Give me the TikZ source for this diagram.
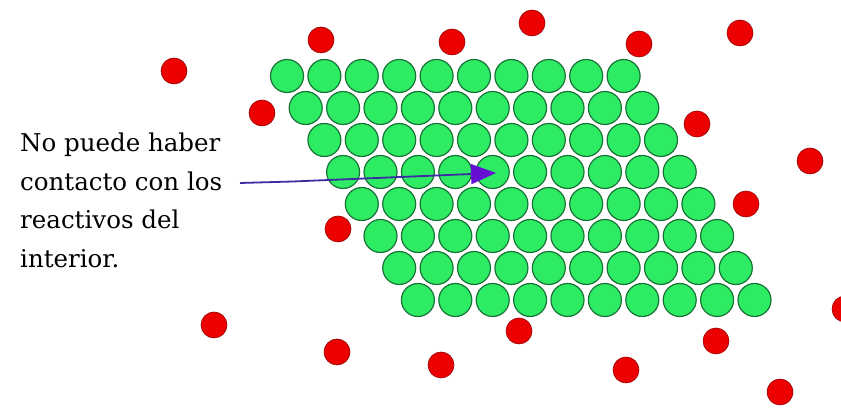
\documentclass[tikz,border=0pt]{standalone}
\usepackage{fontspec}
\newfontfamily\dvserif{DejaVu Serif}
\usetikzlibrary{arrows.meta}
\definecolor{gfill}{RGB}{45,236,100}
\definecolor{gline}{RGB}{25,115,55}
\definecolor{rfill}{RGB}{236,0,0}
\definecolor{rline}{RGB}{150,0,0}
\definecolor{aline}{RGB}{60,45,160}
\definecolor{ahead}{RGB}{100,15,210}
\tikzset{
  gball/.style={circle,fill=gfill,draw=gline,line width=1.2pt,minimum size=33pt,inner sep=0pt},
  rball/.style={circle,fill=rfill,draw=rline,line width=0.6pt,minimum size=26pt,inner sep=0pt},
  lbl/.style={anchor=base west,inner sep=0pt,font=\dvserif\fontsize{24.5}{30}\selectfont,text=black},
  arr/.style={draw=aline,line width=1.8pt,-{Triangle[length=25pt,width=20pt,fill=ahead,color=ahead]}}
}
\begin{document}
\begin{tikzpicture}[x=1pt,y=1pt]
\fill[white] (0,0) rectangle (841,414);
\useasboundingbox (0,0) rectangle (841,414);
% lattice
\foreach \r in {0,...,7}{
  \foreach \c in {0,...,9}{
    \node[gball] (g\r-\c) at ({287+18.7*\r+37.4*\c},{414-(76+32*\r)}) {};
  }
}
% red particles
\foreach \x/\y [count=\i] in {174/71, 321/40, 452/42, 532/23, 639/44, 740/33, 262/113, 697/124, 810/161, 746/204, 338/229, 214/325, 519/331, 337/352, 441/365, 716/341, 626/370, 780/392, 845/309}{
  \node[rball] (r\i) at (\x,{414-\y}) {};
}
% text
\node[lbl] (t1) at (20,{414-152}) {No puede haber};
\node[lbl] (t2) at (20,{414-190.5}) {contacto con los};
\node[lbl] (t3) at (20,{414-229}) {reactivos del};
\node[lbl] (t4) at (20,{414-267.5}) {interior.};
% arrow
\coordinate (a0) at (240,{414-183});
\coordinate (a1) at (293,{414-181.5});
\coordinate (a2) at (496,{414-173});
\draw[arr] (a0) -- (a1) -- (a2);
\end{tikzpicture}
\end{document}
